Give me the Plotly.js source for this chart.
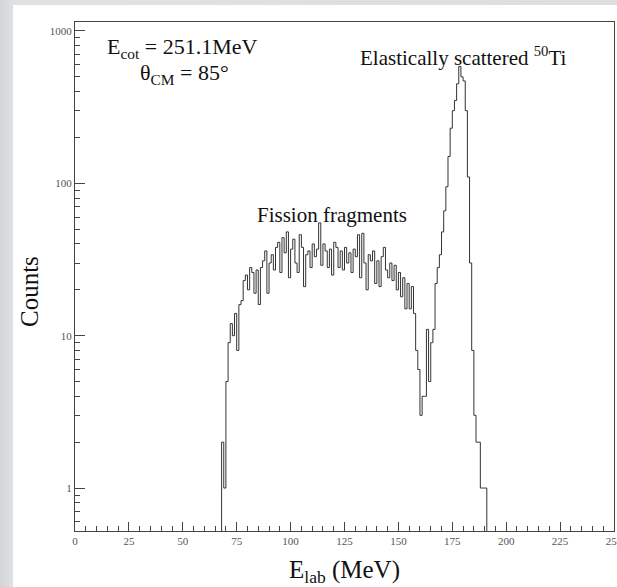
<!DOCTYPE html>
<html>
<head>
<meta charset="utf-8">
<script src="https://cdn.plot.ly/plotly-3.0.1.min.js"></script>
<style>
  html, body { margin: 0; padding: 0; width: 617px; height: 587px; overflow: hidden;
    background: linear-gradient(90deg, #d2d4d5 0px, #dfe1e2 13px, #dcdedf 617px); }
  #chart { position: absolute; left: 13px; top: 5px; width: 604px; height: 582px; background: #fff; }
</style>
</head>
<body>
<div id="chart"></div>
<script>
// Histogram binning (MeV)
const BIN_START = 68;
const BIN_WIDTH = 1;
// Counts per 1 MeV bin, starting at 68 MeV
const counts = [
  2, 1, 5, 9, 12, 10, 14, 8, 16, 17,        // 68 - 77
  23, 25, 20, 28, 26, 19, 27, 16, 28, 31,   // 78 - 87
  36, 19, 30, 34, 27, 38, 41, 26, 44, 35,   // 88 - 97
  48, 24, 37, 43, 30, 26, 46, 38, 21, 34,   // 98 - 107
  36, 28, 40, 33, 37, 55, 29, 40, 36, 28,   // 108 - 117
  37, 25, 41, 38, 28, 36, 27, 38, 30, 35,   // 118 - 127
  26, 37, 33, 46, 24, 47, 30, 20, 34, 31,   // 128 - 137
  36, 22, 31, 21, 33, 38, 27, 24, 30, 23,   // 138 - 147
  29, 20, 26, 18, 24, 15, 22, 15, 21, 14,   // 148 - 157
  8, 6, 3, 4, 4, 11, 5, 9, 11, 22,          // 158 - 167
  28, 34, 48, 66, 95, 150, 230, 300, 350, 450, // 168 - 177
  585, 500, 470, 300, 110, 30, 8, 3, 2, 2,  // 178 - 187
  1, 1, 1, 0                                // 188 - 191
];
const xTickVals = [0, 25, 50, 75, 100, 125, 150, 175, 200, 225, 250];
const yTickVals = [1, 10, 100, 1000];
const yTickText = ['1', '10', '100', '1000'];
const yMinorVals = [0.6, 0.7, 0.8, 0.9, 2, 3, 4, 5, 6, 7, 8, 9, 20, 30, 40, 50, 60, 70, 80, 90,
                    200, 300, 400, 500, 600, 700, 800, 900];

const FLOOR = 0.1; // empty bins drawn below the visible range
const xs = [], ys = [];
for (let i = 0; i < counts.length; i++) {
  xs.push(BIN_START + i * BIN_WIDTH);
  ys.push(counts[i] > 0 ? counts[i] : FLOOR);
}
xs.push(BIN_START + counts.length * BIN_WIDTH);
ys.push(FLOOR);
xs.unshift(BIN_START - BIN_WIDTH);
ys.unshift(FLOOR);

const serif = '"Liberation Serif", "DejaVu Serif", serif';

const data = [{
  type: 'scatter', mode: 'lines',
  x: xs, y: ys,
  line: { shape: 'hv', color: '#333333', width: 1 },
  hoverinfo: 'skip'
}];

const layout = {
  width: 604, height: 582,
  margin: { l: 62, r: 3, t: 17, b: 56 },
  paper_bgcolor: '#ffffff', plot_bgcolor: '#ffffff',
  showlegend: false,
  font: { family: serif, color: '#111' },
  xaxis: {
    range: [0, 250], showgrid: false, zeroline: false,
    showline: true, linecolor: '#444', linewidth: 1, mirror: true,
    ticks: 'inside', ticklen: 9, tickcolor: '#444', tickwidth: 1,
    tickmode: 'array', tickvals: xTickVals, ticklabeloverflow: 'allow',
    tickfont: { family: serif, size: 11, color: '#555' },
    minor: { ticks: 'inside', ticklen: 5, dtick: 5, tickcolor: '#444', tickwidth: 1, showgrid: false },
    title: { text: 'E<sub>lab</sub> (MeV)', font: { family: serif, size: 25, color: '#111' }, standoff: 16 }
  },
  yaxis: {
    type: 'log', range: [-0.282, 3.059], showgrid: false, zeroline: false,
    showline: true, linecolor: '#444', linewidth: 1, mirror: true,
    ticks: 'inside', ticklen: 10, tickcolor: '#444', tickwidth: 1,
    tickmode: 'array', tickvals: yTickVals, ticktext: yTickText,
    tickfont: { family: serif, size: 11, color: '#555' },
    minor: { ticks: 'inside', ticklen: 5, tickmode: 'array', tickvals: yMinorVals, tickcolor: '#444', tickwidth: 1, showgrid: false }
  },
  annotations: [
    { xref: 'paper', yref: 'paper', x: -0.083, y: 0.47, xanchor: 'center', yanchor: 'middle', showarrow: false,
      textangle: -90, text: 'Counts', font: { family: serif, size: 25, color: '#111' } },
    { xref: 'paper', yref: 'paper', x: 0.1985, y: 0.948, xanchor: 'center', yanchor: 'middle', showarrow: false,
      text: 'E<sub>cot</sub> = 251.1MeV', font: { family: serif, size: 22, color: '#111' } },
    { xref: 'paper', yref: 'paper', x: 0.204, y: 0.897, xanchor: 'center', yanchor: 'middle', showarrow: false,
      text: 'θ<sub>CM</sub> = 85°', font: { family: serif, size: 22, color: '#111' } },
    { xref: 'paper', yref: 'paper', x: 0.721, y: 0.933, xanchor: 'center', yanchor: 'middle', showarrow: false,
      text: 'Elastically scattered <sup>50</sup>Ti', font: { family: serif, size: 21, color: '#111' } },
    { xref: 'paper', yref: 'paper', x: 0.476, y: 0.62, xanchor: 'center', yanchor: 'middle', showarrow: false,
      text: 'Fission fragments', font: { family: serif, size: 21, color: '#111' } }
  ]
};

Plotly.newPlot('chart', data, layout, { displayModeBar: false, staticPlot: true });
</script>
</body>
</html>
